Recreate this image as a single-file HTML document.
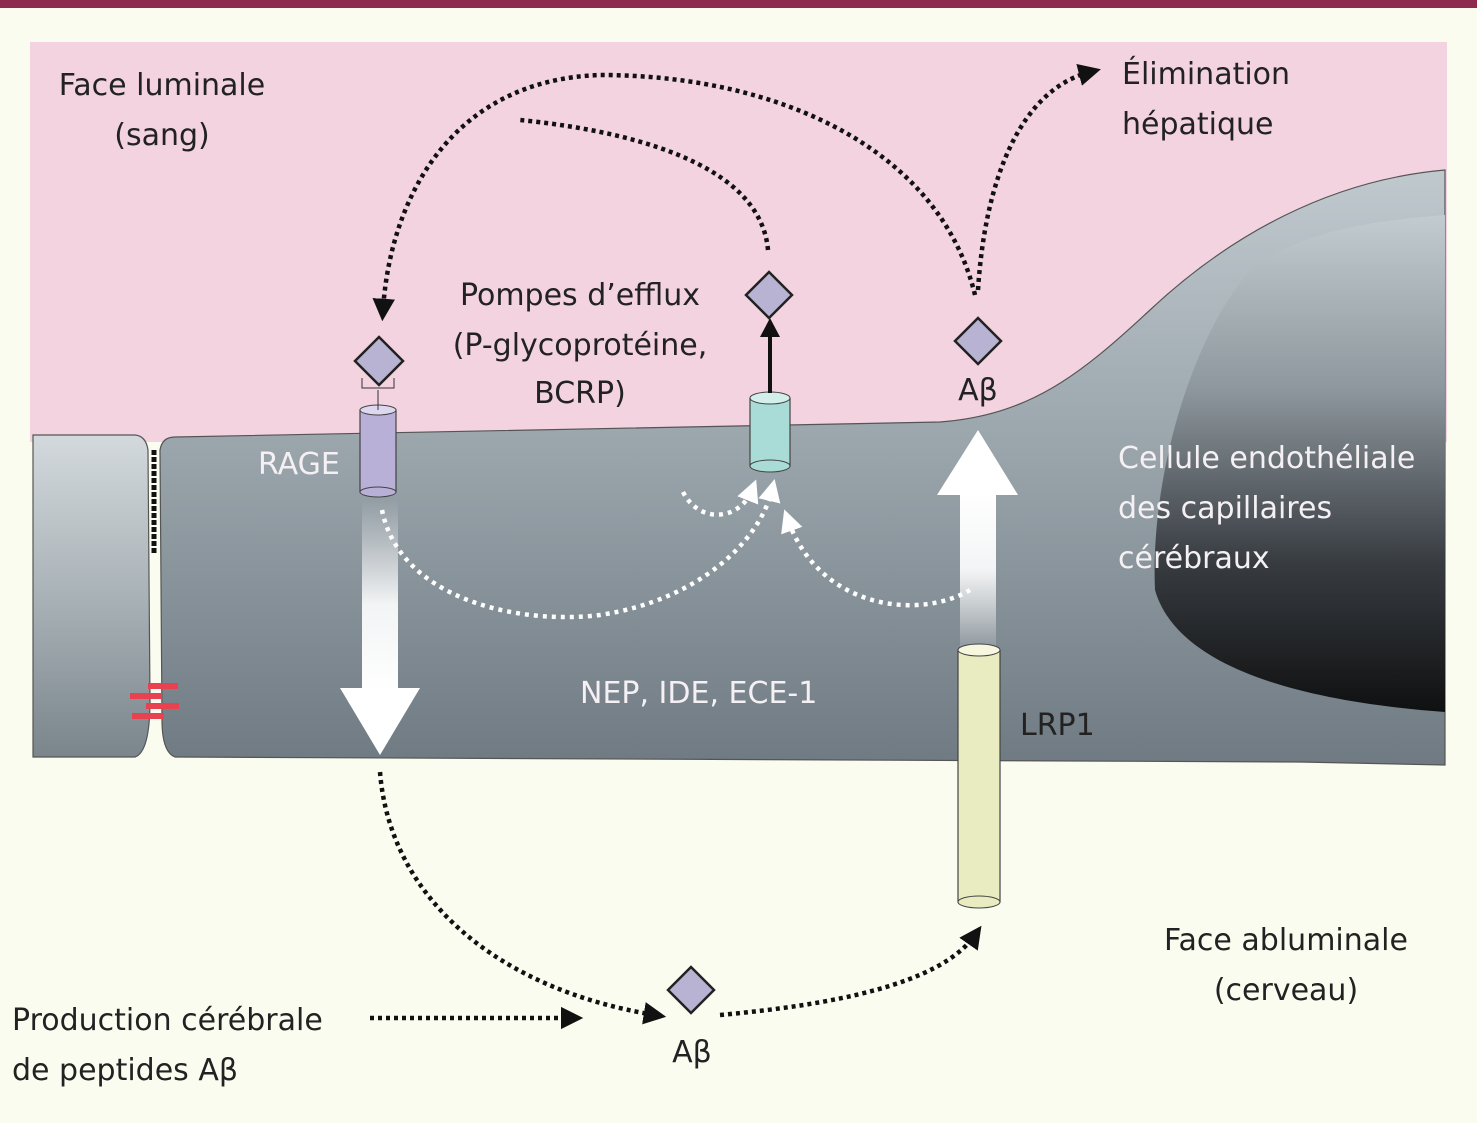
<!DOCTYPE html>
<html><head><meta charset="utf-8"><style>
html,body{margin:0;padding:0;background:#fbfcf0;}
svg{display:block}
text{font-family:"DejaVu Sans","Liberation Sans",sans-serif;}
</style></head><body>
<svg width="1477" height="1123" viewBox="0 0 1477 1123" xmlns="http://www.w3.org/2000/svg">
<defs>
<linearGradient id="cell" x1="0" y1="0" x2="0" y2="1">
<stop offset="0" stop-color="#c0c9ce"/><stop offset="0.5" stop-color="#97a2a9"/><stop offset="1" stop-color="#6f7a82"/></linearGradient>
<linearGradient id="leftcell" x1="0" y1="0" x2="0" y2="1">
<stop offset="0" stop-color="#d3d9dc"/><stop offset="0.5" stop-color="#a9b2b7"/><stop offset="1" stop-color="#7a858c"/></linearGradient>
<linearGradient id="dark" x1="0" y1="0" x2="0" y2="1">
<stop offset="0" stop-color="#c3ccd0"/><stop offset="0.35" stop-color="#8c969c"/><stop offset="0.7" stop-color="#33373c"/><stop offset="1" stop-color="#0a0a0a"/></linearGradient>
<linearGradient id="arrD" x1="0" y1="0" x2="0" y2="1">
<stop offset="0" stop-color="#fff" stop-opacity="0"/><stop offset="0.55" stop-color="#fff" stop-opacity="0.9"/><stop offset="1" stop-color="#fff"/></linearGradient>
<linearGradient id="arrU" x1="0" y1="1" x2="0" y2="0">
<stop offset="0" stop-color="#fff" stop-opacity="0.1"/><stop offset="0.5" stop-color="#fff" stop-opacity="0.9"/><stop offset="1" stop-color="#fff"/></linearGradient>
<marker id="ah" viewBox="0 0 10 10" refX="5" refY="5" markerWidth="5" markerHeight="5" orient="auto"><path d="M0,0L10,5L0,10z" fill="#111"/></marker>
<marker id="ahw" viewBox="0 0 10 10" refX="5" refY="5" markerWidth="5" markerHeight="5" orient="auto"><path d="M0,0L10,5L0,10z" fill="#fff"/></marker>
</defs>
<rect x="0" y="0" width="1477" height="8" fill="#8e2a4e"/>
<rect x="30" y="42" width="1417" height="400" fill="#f3d3df"/>
<path d="M33,435 L135,435 Q146,436 148,450 L150,700 Q150,752 135,757 L33,757 Z" fill="url(#leftcell)" stroke="#555" stroke-width="1.2"/>
<path d="M160,450 Q162,437 175,437 L940,422 C1030,415 1080,375 1150,310 C1230,235 1330,180 1445,170 L1445,765 L1300,762 L175,757 Q162,752 162,720 Z" fill="url(#cell)" stroke="#555" stroke-width="1.2"/>
<path d="M1250,270 C1190,340 1150,480 1155,590 C1175,660 1280,700 1445,712 L1445,215 C1380,220 1300,230 1250,270 Z" fill="url(#dark)" opacity="0.95"/>
<line x1="154" y1="450" x2="154" y2="555" stroke="#111" stroke-width="5" stroke-dasharray="5,2"/>
<g fill="#e8414f"><rect x="148" y="683" width="30" height="6"/><rect x="130" y="693" width="32" height="6"/><rect x="146" y="703" width="33" height="6"/><rect x="132" y="713" width="32" height="6"/></g>
<rect x="362" y="500" width="36" height="190" fill="url(#arrD)"/>
<path d="M340,688 L420,688 L380,755 Z" fill="#fff"/>
<rect x="960" y="490" width="36" height="160" fill="url(#arrU)"/>
<path d="M937,495 L1018,495 L978,430 Z" fill="#fff"/>
<rect x="360" y="410" width="36" height="82" fill="#b9b0d8" stroke="#444" stroke-width="1.2"/>
<ellipse cx="378" cy="410" rx="18" ry="5" fill="#ddd8ef" stroke="#444"/>
<ellipse cx="378" cy="492" rx="18" ry="5" fill="#b9b0d8" stroke="#444"/>
<line x1="378" y1="390" x2="378" y2="410" stroke="#333"/>
<path d="M362,378 L362,388 L394,388 L394,378" fill="none" stroke="#333"/>
<rect x="750" y="398" width="40" height="68" fill="#a9dcd6" stroke="#444" stroke-width="1.2"/>
<ellipse cx="770" cy="398" rx="20" ry="6" fill="#d3efec" stroke="#444"/>
<ellipse cx="770" cy="466" rx="20" ry="6" fill="#a9dcd6" stroke="#444"/>
<line x1="770" y1="393" x2="770" y2="335" stroke="#111" stroke-width="4"/>
<path d="M760,337 L780,337 L770,318 Z" fill="#111"/>
<rect x="958" y="650" width="42" height="252" fill="#e9ecc0" stroke="#444" stroke-width="1.2"/>
<ellipse cx="979" cy="650" rx="21" ry="6" fill="#f6f7de" stroke="#444"/>
<ellipse cx="979" cy="902" rx="21" ry="6" fill="#e9ecc0" stroke="#444"/>
<g fill="#b8b3d3" stroke="#222" stroke-width="2.5">
<path d="M379,337 L403,361 L379,385 L355,361 Z"/>
<path d="M769,272 L792,295 L769,318 L746,295 Z"/>
<path d="M978,318 L1001,341 L978,364 L955,341 Z"/>
<path d="M691,967 L714,990 L691,1013 L668,990 Z"/>
</g>
<g fill="none" stroke="#111" stroke-width="4.5" stroke-dasharray="4,4">
<path d="M768,250 C760,160 620,130 520,120" />
<path d="M975,295 C940,150 780,75 600,75 C450,80 390,200 383,310" marker-end="url(#ah)"/>
<path d="M978,290 C985,180 1020,90 1090,72" marker-end="url(#ah)"/>
<path d="M380,772 C390,900 500,990 655,1015" marker-end="url(#ah)"/>
<path d="M720,1015 C830,1005 940,985 975,935" marker-end="url(#ah)"/>
<path d="M370,1018 L572,1018" marker-end="url(#ah)"/>
</g>
<g fill="none" stroke="#fff" stroke-width="4.5" stroke-dasharray="4,5">
<path d="M382,510 C400,600 520,625 600,615 C700,600 760,540 772,490" marker-end="url(#ahw)"/>
<path d="M970,590 C920,620 820,610 788,520" marker-end="url(#ahw)"/>
<path d="M683,492 C700,525 740,520 752,490" marker-end="url(#ahw)"/>
</g>
<g font-size="30" fill="#222">
<text x="162" y="95" text-anchor="middle">Face luminale</text>
<text x="162" y="145" text-anchor="middle">(sang)</text>
<text x="1122" y="84">Élimination</text>
<text x="1122" y="134">hépatique</text>
<text x="580" y="305" text-anchor="middle">Pompes d’efflux</text>
<text x="580" y="355" text-anchor="middle">(P-glycoprotéine,</text>
<text x="580" y="403" text-anchor="middle">BCRP)</text>
<text x="978" y="400" text-anchor="middle">Aβ</text>
<text x="1020" y="735">LRP1</text>
<text x="1286" y="950" text-anchor="middle">Face abluminale</text>
<text x="1286" y="1000" text-anchor="middle">(cerveau)</text>
<text x="12" y="1030">Production cérébrale</text>
<text x="12" y="1080">de peptides Aβ</text>
<text x="692" y="1062" text-anchor="middle">Aβ</text>
</g>
<g font-size="30" fill="#f5f0f3">
<text x="258" y="474">RAGE</text>
<text x="580" y="703">NEP, IDE, ECE-1</text>
<text x="1118" y="468">Cellule endothéliale</text>
<text x="1118" y="518">des capillaires</text>
<text x="1118" y="568">cérébraux</text>
</g>
</svg>
</body></html>
